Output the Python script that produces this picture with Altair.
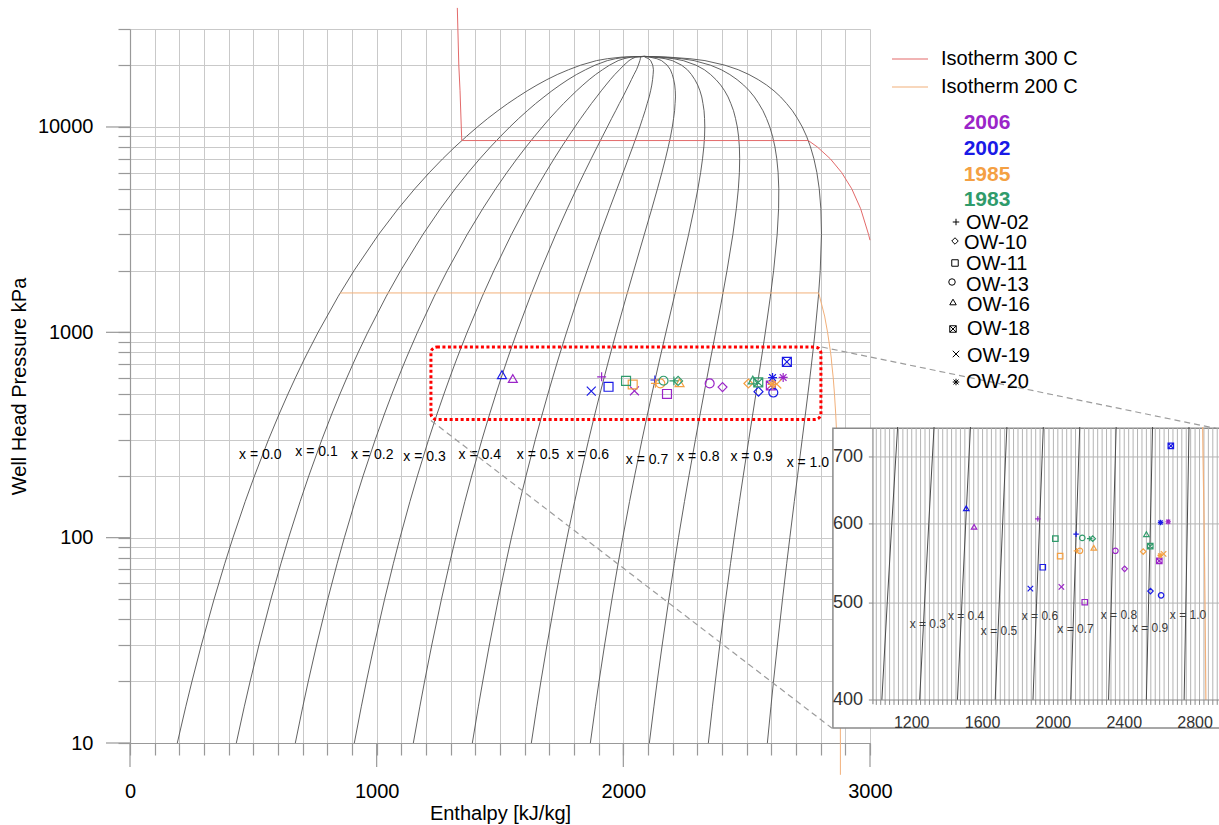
import altair as alt
import pandas as pd

FONT = "Liberation Sans"

# ---------------------------------------------------------------------------
# Water saturation table: pressure (kPa), saturated liquid / vapour enthalpy (kJ/kg)
SAT_P = [10, 15, 20, 30, 50, 75, 100, 150, 200, 300,
         400, 500, 600, 700, 750, 800, 1000, 1500, 2000, 3000,
         4000, 5000, 6000, 7000, 8000, 9000, 10000, 11000, 12000, 13000,
         14000, 15000, 16000, 17000, 18000, 19000, 20000, 21044, 21500, 21900,
         22064]
SAT_HF = [191.8, 225.9, 251.4, 289.3, 340.5, 384.4, 417.5, 467.1, 504.7, 561.4,
          604.7, 640.1, 670.4, 697.0, 709.2, 720.9, 762.5, 844.6, 908.5, 1008.3,
          1087.4, 1154.5, 1213.9, 1267.7, 1317.5, 1364.2, 1408.1, 1450.2, 1491.5, 1531.4,
          1571.5, 1610.3, 1649.9, 1690.0, 1732.0, 1778.0, 1827.1, 1891.0, 1935.0, 1995.0,
          2084.3]
SAT_HG = [2583.9, 2598.3, 2608.9, 2624.6, 2645.2, 2662.4, 2675.0, 2693.1, 2706.3, 2724.9,
          2738.1, 2748.1, 2756.2, 2762.8, 2765.6, 2768.3, 2777.1, 2791.0, 2798.3, 2803.2,
          2800.8, 2794.2, 2784.6, 2772.6, 2758.7, 2742.9, 2725.5, 2706.0, 2685.4, 2662.0,
          2637.9, 2610.8, 2580.8, 2547.0, 2509.5, 2466.0, 2411.4, 2331.0, 2270.0, 2180.0,
          2084.3]
QUALITY = [0.0, 0.1, 0.2, 0.3, 0.4, 0.5, 0.6, 0.7, 0.8, 0.9, 1.0]

# Isotherms (enthalpy kJ/kg, pressure kPa)
ISO300_H = [1327, 1333, 1338, 1343, 1345, 2750, 2786, 2839, 2885, 2926, 2962, 2994, 3000]
ISO300_P = [38000, 20000, 15000, 10000, 8588, 8588, 8000, 7000, 6000, 5000, 4000, 3000, 2810]
ISO200_H = [852, 2792, 2816, 2828, 2840, 2843, 2845, 2851, 2856, 2861, 2866, 2871, 2876, 2878, 2880, 2880]
ISO200_P = [1555, 1555, 1200, 1000, 800, 750, 700, 600, 500, 400, 300, 200, 100, 50, 10, 7]

# Well-head measurements
YEARS = ["2006", "2002", "1985", "1983"]
YEAR_COLORS = ["#9b25c8", "#1a1ae6", "#f4a043", "#2f9b6b"]
WELLS = ["OW-02", "OW-10", "OW-11", "OW-13", "OW-16", "OW-18", "OW-19", "OW-20"]
WELL_SHAPES = [
    "M-1,0L1,0M0,-1L0,1",
    "diamond",
    "square",
    "circle",
    "triangle-up",
    "M-1,-1L1,-1L1,1L-1,1ZM-1,-1L1,1M1,-1L-1,1",
    "M-1,-1L1,1M1,-1L-1,1",
    "M-1,0L1,0M0,-1L0,1M-0.75,-0.75L0.75,0.75M0.75,-0.75L-0.75,0.75",
]

PT_YEAR = (["2006"] * 8) + (["2002"] * 8) + (["1985"] * 7) + (["1983"] * 6)
PT_WELL = ["OW-02", "OW-10", "OW-11", "OW-13", "OW-16", "OW-18", "OW-19", "OW-20",
           "OW-02", "OW-10", "OW-11", "OW-13", "OW-16", "OW-18", "OW-19", "OW-20",
           "OW-02", "OW-10", "OW-11", "OW-13", "OW-16", "OW-19", "OW-20",
           "OW-02", "OW-10", "OW-11", "OW-13", "OW-16", "OW-18"]
PT_H = [1912, 2402, 2177, 2350, 1552, 2598, 2045, 2648,
        2128, 2548, 1940, 2608, 1508, 2663, 1870, 2605,
        2130, 2507, 2038, 2150, 2228, 2622, 2603,
        2205, 2222, 2011, 2163, 2525, 2547]
PT_P = [607, 541, 501, 564, 596, 551, 519, 603,
        586, 514, 543, 509, 622, 718, 517, 602,
        564, 563, 557, 564, 568, 560, 558,
        580, 580, 580, 581, 586, 570]

# Quality labels on the main diagram
QLABEL_TEXT = ["x = 0.0", "x = 0.1", "x = 0.2", "x = 0.3", "x = 0.4", "x = 0.5",
               "x = 0.6", "x = 0.7", "x = 0.8", "x = 0.9", "x = 1.0"]
QLABEL_H = [528, 756, 982, 1194, 1418, 1654, 1856, 2096, 2304, 2520, 2748]
QLABEL_P = [254, 260, 254, 246, 254, 254, 254, 240, 246, 246, 230]

# Zoomed window
ZOOM_H = [1220, 2801]
ZOOM_P = [376, 848]
INSET_H = [1000, 2935]
INSET_P = [400, 750]
INSET_XTICKS = [1200, 1600, 2000, 2400, 2800]
INSET_YTICKS = [400, 500, 600, 700]
INSET_QLABEL_TEXT = ["x = 0.3", "x = 0.4", "x = 0.5", "x = 0.6", "x = 0.7", "x = 0.8", "x = 0.9", "x = 1.0"]
INSET_QLABEL_H = [1291, 1507, 1693, 1924, 2125, 2370, 2546, 2760]
INSET_QLABEL_P = [476, 485, 469, 485, 471, 487, 472, 487]

# ---------------------------------------------------------------------------
# Layout (canvas pixels)
OX, OY = 130, 29            # plot origin
PLOT_W, PLOT_H = 740, 714
INSET_PX = [876.3, 1219.0]  # canvas x of INSET_H
INSET_PY = [700.0, 427.0]   # canvas y of INSET_P

RED = "#e36a6a"
ORANGE = "#f2b07a"
GRID = "#c9c9c9"
AXIS_GREY = "#999999"
LINE = "#505050"

X_TICKS = list(range(0, 3001, 100))
X_MAJOR = [0, 1000, 2000, 3000]
Y_MAJOR = [10, 100, 1000, 10000]
Y_TICKS = [m * 10 ** e for e in range(1, 5) for m in range(1, 10)]
Y_TICKS = [v for v in Y_TICKS if v <= 30000]

X_AXIS = alt.Axis(
    values=X_TICKS, format="d",
    labelExpr="datum.value % 1000 === 0 ? datum.label : ''",
    grid=True, gridColor=GRID, gridWidth=1,
    domainColor=AXIS_GREY, domainWidth=1.2, tickColor=AXIS_GREY, tickWidth=1.2, tickSize=12,
    labelFont=FONT, labelFontSize=20, labelColor="#000000", labelPadding=26,
    labelFlush=False, labelOverlap=False,
    title="Enthalpy [kJ/kg]", titleFont=FONT, titleFontSize=20,
    titleFontWeight="normal", titleColor="#000000", titlePadding=2,
)
Y_AXIS = alt.Axis(
    values=Y_TICKS, format="d",
    labelExpr="indexof([10, 100, 1000, 10000], datum.value) >= 0 ? datum.label : ''",
    grid=True, gridColor=GRID, gridWidth=1,
    domainColor=AXIS_GREY, domainWidth=1.2, tickColor=AXIS_GREY, tickWidth=1.2, tickSize=12,
    labelFont=FONT, labelFontSize=20, labelColor="#000000", labelPadding=25,
    labelFlush=False, labelOverlap=False,
    title="Well Head Pressure kPa", titleFont=FONT, titleFontSize=20,
    titleFontWeight="normal", titleColor="#000000", titlePadding=8,
)

XM = alt.Scale(domain=[0, 3000], nice=False, zero=False)
YM = alt.Scale(type="log", domain=[10, 30000], nice=False)
XI = alt.Scale(domain=INSET_H, range=[INSET_PX[0] - OX, INSET_PX[1] - OX], nice=False, zero=False)
YI = alt.Scale(type="log", domain=INSET_P, range=[INSET_PY[0] - OY, INSET_PY[1] - OY], nice=False)


# every main layer carries the same axis definition so the shared axes merge cleanly
def mx(f):
    return alt.X(f, type="quantitative", scale=XM, axis=X_AXIS)


def my(f):
    return alt.Y(f, type="quantitative", scale=YM, axis=Y_AXIS)


def ix(f):
    return alt.X(f, type="quantitative", scale=XI, axis=None)


def iy(f):
    return alt.Y(f, type="quantitative", scale=YI, axis=None)


def px(f):
    return alt.X(f, type="quantitative", scale=None, axis=None)


def py(f):
    return alt.Y(f, type="quantitative", scale=None, axis=None)


COLOR = alt.Color("year:N", scale=alt.Scale(domain=YEARS, range=YEAR_COLORS), legend=None)
SHAPE = alt.Shape("well:N", scale=alt.Scale(domain=WELLS, range=WELL_SHAPES), legend=None)

# ---------------------------------------------------------------------------
sat = pd.DataFrame({"P": SAT_P, "hf": SAT_HF, "hg": SAT_HG})
q_calc = {f"q{round(q * 10):02d}": f"datum.hf + {q} * (datum.hg - datum.hf)" for q in QUALITY}
q_inset = [k for k in q_calc if int(k[1:]) >= 2]

iso300 = pd.DataFrame({"h": ISO300_H, "P": ISO300_P, "seq": range(len(ISO300_H))})
iso200 = pd.DataFrame({"h": ISO200_H, "P": ISO200_P, "seq": range(len(ISO200_H))})
pts = pd.DataFrame({"year": PT_YEAR, "well": PT_WELL, "h": PT_H, "P": PT_P})
qlab = pd.DataFrame({"text": QLABEL_TEXT, "h": QLABEL_H, "P": QLABEL_P})

# ---- main diagram
quality_lines = (
    alt.Chart(sat)
    .transform_calculate(**q_calc)
    .transform_fold(list(q_calc), as_=["quality", "h"])
    .mark_line(color=LINE, strokeWidth=0.9)
    .encode(x=mx("h"), y=my("P"), detail="quality:N", order=alt.Order("P:Q"))
)

# longer ticks at the decades / thousands (12 px beyond the regular ticks)
x_major = pd.DataFrame({"h": X_MAJOR, "p0": 10, "p1": 7.64})
y_major = pd.DataFrame({"P": Y_MAJOR, "h0": 0, "h1": -97.3})
x_major_ticks = alt.Chart(x_major).mark_rule(color=AXIS_GREY, strokeWidth=1.2).encode(
    x=mx("h"), y=my("p0"), y2=alt.Y2("p1"))
y_major_ticks = alt.Chart(y_major).mark_rule(color=AXIS_GREY, strokeWidth=1.2).encode(
    x=mx("h0"), x2=alt.X2("h1"), y=my("P"))

iso300_line = alt.Chart(iso300).mark_line(color=RED, strokeWidth=1).encode(
    x=mx("h"), y=my("P"), order="seq:Q")
iso200_line = alt.Chart(iso200).mark_line(color=ORANGE, strokeWidth=1).encode(
    x=mx("h"), y=my("P"), order="seq:Q")
quality_text = alt.Chart(qlab).mark_text(font=FONT, fontSize=14, color="#000000").encode(
    x=mx("h"), y=my("P"), text="text:N")

zoom_box = alt.Chart(pd.DataFrame({"h0": [ZOOM_H[0]], "h1": [ZOOM_H[1]],
                                   "p0": [ZOOM_P[0]], "p1": [ZOOM_P[1]]})).mark_rect(
    fillOpacity=0, stroke="#ff0000", strokeWidth=3, strokeDash=[3, 2.5], cornerRadius=6
).encode(x=mx("h0"), x2=alt.X2("h1"), y=my("p0"), y2=alt.Y2("p1"))

# connectors from the zoom window to the inset, in main-diagram units
links = pd.DataFrame({"h0": [2805, 1220], "h1": [4415, 2846],
                      "p0": [848, 372], "p1": [338, 11.8]})
link_lines = alt.Chart(links).mark_rule(color="#9c9c9c", strokeWidth=1.2, strokeDash=[6, 4]).encode(
    x=mx("h0"), x2=alt.X2("h1"), y=my("p0"), y2=alt.Y2("p1"))

main_points = alt.Chart(pts).mark_point(filled=False, size=80, strokeWidth=1.2, opacity=1).encode(
    x=mx("h"), y=my("P"), color=COLOR, shape=SHAPE)

main = alt.layer(quality_lines, x_major_ticks, y_major_ticks, iso300_line, iso200_line,
                 quality_text, zoom_box, main_points, link_lines)

# ---- inset
vgrid = pd.DataFrame({"h": list(range(1000, 2935, 25))})
vgrid["p0"] = 400
vgrid["p1"] = 748
hgrid = pd.DataFrame({"P": INSET_YTICKS[1:], "h0": 981, "h1": 3000})

inset_frame = alt.Chart(pd.DataFrame({"h0": [755], "h1": [3000], "p0": [375], "p1": [748]})).mark_rect(
    fill="#ffffff", stroke="#8a8a8a", strokeWidth=1.5
).encode(x=ix("h0"), x2=alt.X2("h1"), y=iy("p0"), y2=alt.Y2("p1"))
inset_vgrid = alt.Chart(vgrid).mark_rule(color="#b4b4b4", strokeWidth=1).encode(
    x=ix("h"), y=iy("p0"), y2=alt.Y2("p1"))
inset_hgrid = alt.Chart(hgrid).mark_rule(color="#b4b4b4", strokeWidth=1).encode(
    x=ix("h0"), x2=alt.X2("h1"), y=iy("P"))
inset_xaxis = alt.Chart(pd.DataFrame({"h0": [981], "h1": [3000], "P": [400]})).mark_rule(
    color="#8a8a8a", strokeWidth=1.2).encode(x=ix("h0"), x2=alt.X2("h1"), y=iy("P"))
inset_yaxis = alt.Chart(pd.DataFrame({"h": [981], "p0": [396], "p1": [748]})).mark_rule(
    color="#8a8a8a", strokeWidth=1.2).encode(x=ix("h"), y=iy("p0"), y2=alt.Y2("p1"))
xt = vgrid[["h"]].copy()
xt["p0"] = 400
xt["p1"] = 395.5
inset_xticks = alt.Chart(xt).mark_rule(color="#8a8a8a", strokeWidth=1).encode(
    x=ix("h"), y=iy("p0"), y2=alt.Y2("p1"))
inset_yticks = alt.Chart(pd.DataFrame({"P": INSET_YTICKS, "h0": 958, "h1": 981})).mark_rule(
    color="#8a8a8a", strokeWidth=1).encode(x=ix("h0"), x2=alt.X2("h1"), y=iy("P"))
inset_xlabels = alt.Chart(pd.DataFrame({"h": INSET_XTICKS, "P": 379})).mark_text(
    font=FONT, fontSize=16, color="#333333", baseline="middle").encode(
    x=ix("h"), y=iy("P"), text=alt.Text("h:Q", format="d"))
inset_ylabels = alt.Chart(pd.DataFrame({"P": INSET_YTICKS, "h": 925})).mark_text(
    font=FONT, fontSize=18, color="#333333", align="right", baseline="middle").encode(
    x=ix("h"), y=iy("P"), text=alt.Text("P:Q", format="d"))
inset_quality = (
    alt.Chart(sat)
    .transform_filter(alt.FieldRangePredicate(field="P", range=INSET_P))
    .transform_calculate(**q_calc)
    .transform_fold(q_inset, as_=["quality", "h"])
    .mark_line(color="#4a4a4a", strokeWidth=1)
    .encode(x=ix("h"), y=iy("P"), detail="quality:N", order=alt.Order("P:Q"))
)
inset_iso200 = (
    alt.Chart(iso200)
    .transform_filter(alt.FieldRangePredicate(field="P", range=INSET_P))
    .mark_line(color=ORANGE, strokeWidth=1.2)
    .encode(x=ix("h"), y=iy("P"), order="seq:Q")
)
inset_qtext = alt.Chart(pd.DataFrame({"text": INSET_QLABEL_TEXT, "h": INSET_QLABEL_H,
                                      "P": INSET_QLABEL_P})).mark_text(
    font=FONT, fontSize=12, color="#3a3a3a").encode(x=ix("h"), y=iy("P"), text="text:N")
inset_points = alt.Chart(pts).mark_point(filled=False, size=30, strokeWidth=1.2, opacity=1).encode(
    x=ix("h"), y=iy("P"), color=COLOR, shape=SHAPE)

inset = alt.layer(inset_frame, inset_vgrid, inset_hgrid, inset_quality, inset_iso200,
                  inset_xaxis, inset_yaxis, inset_xticks, inset_yticks,
                  inset_xlabels, inset_ylabels, inset_qtext, inset_points)

# ---- legend (canvas pixels, shifted to the plot origin)
iso_leg = pd.DataFrame({
    "label": ["Isotherm 300 C", "Isotherm 200 C"],
    "col": [RED, ORANGE],
    "x0": [892 - OX] * 2, "x1": [928 - OX] * 2, "tx": [941 - OX] * 2,
    "y": [59 - OY, 87 - OY],
})
year_leg = pd.DataFrame({"year": YEARS, "x": [987 - OX] * 4,
                         "y": [v - OY for v in [123, 149, 175, 200]]})
well_leg = pd.DataFrame({
    "well": WELLS,
    "sx": [v - OX for v in [956, 955, 955, 952, 953, 953, 956, 956]],
    "sy": [v - OY for v in [222, 241, 263, 282, 302, 329, 354, 382]],
    "tx": [v - OX for v in [966, 964, 966, 966, 967, 967, 967, 966]],
    "ty": [v - OY for v in [223, 243, 264, 285, 305, 329, 356, 382]],
})
leg_lines = alt.Chart(iso_leg).mark_rule(strokeWidth=1.2).encode(
    x=px("x0"), x2=alt.X2("x1"), y=py("y"), color=alt.Color("col:N", scale=None))
leg_iso_text = alt.Chart(iso_leg).mark_text(font=FONT, fontSize=20, align="left",
                                            baseline="middle", color="#000000").encode(
    x=px("tx"), y=py("y"), text="label:N")
leg_years = alt.Chart(year_leg).mark_text(font=FONT, fontSize=21, fontWeight="bold",
                                          align="center", baseline="middle").encode(
    x=px("x"), y=py("y"), text="year:N", color=COLOR)
leg_symbols = alt.Chart(well_leg).mark_point(filled=False, size=42, strokeWidth=1,
                                             color="#000000", opacity=1).encode(
    x=px("sx"), y=py("sy"), shape=SHAPE)
leg_wells = alt.Chart(well_leg).mark_text(font=FONT, fontSize=20, align="left",
                                          baseline="middle", color="#000000").encode(
    x=px("tx"), y=py("ty"), text="well:N")
legend = alt.layer(leg_lines, leg_iso_text, leg_years, leg_symbols, leg_wells)

chart = (
    alt.layer(main, inset, legend)
    .resolve_scale(x="independent", y="independent")
    .properties(
        width=PLOT_W, height=PLOT_H,
        padding={"left": OX, "top": OY, "right": 1219 - OX - PLOT_W, "bottom": 825 - OY - PLOT_H},
        autosize=alt.AutoSizeParams(type="none"),
        background="#ffffff",
    )
    .configure_view(stroke=None)
)

chart.save("out.html", embed_options={"renderer": "svg", "actions": False})
